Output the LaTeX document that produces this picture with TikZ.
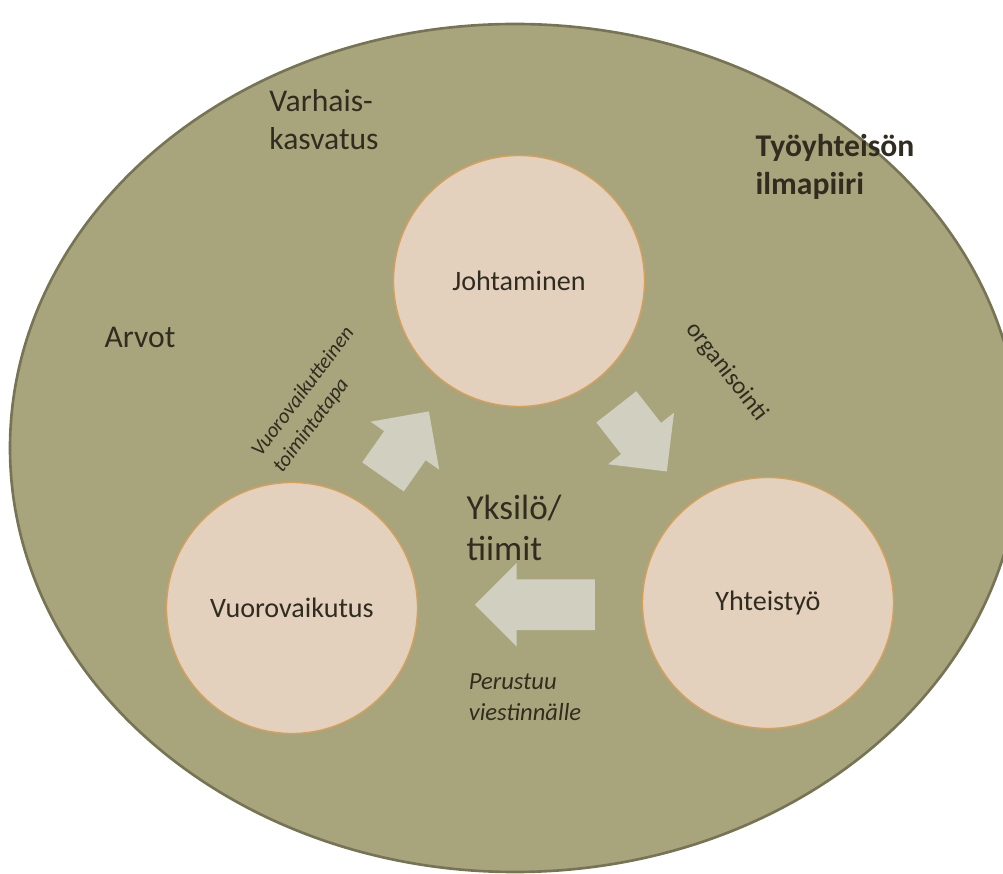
\documentclass[tikz,border=0pt]{standalone}
\usepackage{fontspec}
\setmainfont{Carlito}
\usetikzlibrary{shapes.arrows,calc}
%% farger
\definecolor{olive}{RGB}{168,165,124}
\definecolor{oliveedge}{RGB}{118,116,84}
\definecolor{disc}{RGB}{227,209,189}
\definecolor{discedge}{RGB}{214,160,92}
\definecolor{arrowgrey}{RGB}{208,207,192}
\definecolor{ink}{RGB}{48,44,32}
\tikzset{
  circ/.style = {circle, fill=disc, draw=discedge, line width=0.8pt,
    minimum size=5.02cm, inner sep=0pt, text=ink,
    font=\fontsize{16}{19}\selectfont},
  blockarrow/.style = {single arrow, fill=arrowgrey, draw=none, anchor=tail,
    inner xsep=0pt, inner ysep=0.5cm, single arrow head extend=0.33cm},
  lbl/.style = {text=ink, align=left, inner sep=0pt},
}
\begin{document}
\begin{tikzpicture}
\useasboundingbox (0,0) rectangle (20.06,17.46);
%% ytre ellipse
\begin{scope}
\clip (0,0) rectangle (20.06,17.46);
\draw [fill=olive, draw=oliveedge, line width=1.5pt] (10.3,8.5) ellipse [x radius=10.1, y radius=8.48];
\end{scope}
%% sirkler
\node [circ] (joht)  at (10.38,11.84) {Johtaminen};
\node [circ] (vuoro) at (5.84,5.30)   {Vuorovaikutus};
\node [circ] (yht)   at (15.36,5.40)  {Yhteistyö};
%% piler (tail placed on the line between centres)
\node [blockarrow, minimum height=1.6cm, rotate=55]   (a1) at ($(vuoro)!0.40!(joht)$) {};
\node [blockarrow, minimum height=1.64cm, rotate=-52] (a2) at ($(joht)!0.39!(yht)$)   {};
\node [blockarrow, minimum height=2.4cm, rotate=180]  (a3) at ($(yht)!0.363!(vuoro)$) {};
%% tekster
\node [lbl, font=\fontsize{18}{21.6}\selectfont] (varh)  at (6.48,15.06) {Varhais-\\kasvatus};
\node [lbl, font=\fontsize{18}{21.6}\selectfont] (arvot) at (2.80,10.72) {Arvot};
\node [lbl, font=\fontsize{18}{21.6}\selectfont\bfseries] (ilma) at (16.70,14.12) {Työyhteisön\\ilmapiiri};
\node [lbl, font=\fontsize{20}{23}\selectfont] (yks)   at (10.28,6.90) {Yksilö/\\tiimit};
\node [lbl, font=\fontsize{14}{17.6}\selectfont\itshape] (perus) at (10.50,3.52) {Perustuu\\viestinnälle};
\node [lbl, font=\fontsize{14}{17}\selectfont, rotate=-52] (org) at (14.54,10.02) {organisointi};
\node [lbl, font=\fontsize{12}{15.4}\selectfont\itshape, rotate=53] (tapa) at (6.28,9.46) {Vuorovaikutteinen\\toimintatapa};
%%
\end{tikzpicture}
\end{document}
